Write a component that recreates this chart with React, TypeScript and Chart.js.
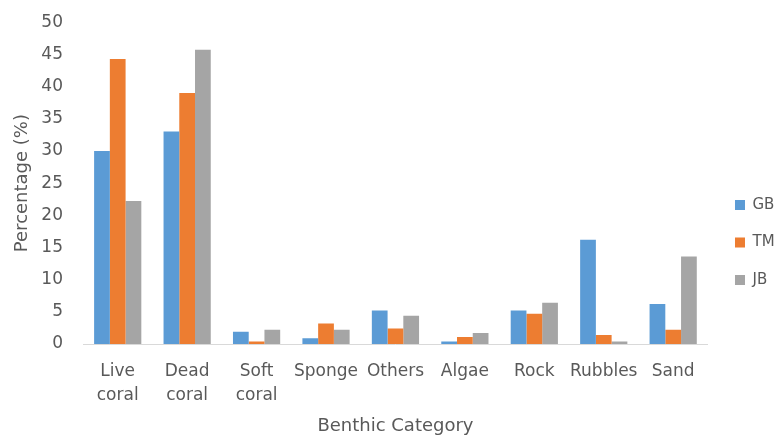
import React, { useEffect, useRef } from "react";
import { Chart, registerables } from "chart.js";

Chart.register(...registerables);

const categories: (string | string[])[] = [
  ["Live", "coral"],
  ["Dead", "coral"],
  ["Soft", "coral"],
  "Sponge",
  "Others",
  "Algae",
  "Rock",
  "Rubbles",
  "Sand",
];
const gbValues = [30.0, 33.0, 1.9, 0.9, 5.2, 0.4, 5.2, 16.2, 6.2];
const tmValues = [44.3, 39.0, 0.4, 3.2, 2.4, 1.1, 4.7, 1.4, 2.2];
const jbValues = [22.2, 45.7, 2.2, 2.2, 4.4, 1.7, 6.4, 0.4, 13.6];
const seriesNames = ["GB", "TM", "JB"];
const seriesColors = ["#5B9BD5", "#ED7D31", "#A5A5A5"];
const yAxisTitle = "Percentage (%)";
const xAxisTitle = "Benthic Category";

const FONT = "'DejaVu Sans', sans-serif";
const TEXT = "#595959";

const legendShift = {
  id: "legendShift",
  afterLayout(chart: any) {
    const lg = chart.legend;
    if (!lg) return;
    const dx = 4.6;
    const dy = 28;
    lg.left += dx;
    lg.right += dx;
    lg.top += dy;
    lg.bottom += dy;
  },
};

export default function App() {
  const ref = useRef<HTMLCanvasElement | null>(null);
  useEffect(() => {
    if (!ref.current) return;
    const chart = new Chart(ref.current, {
      type: "bar",
      data: {
        labels: categories,
        datasets: [gbValues, tmValues, jbValues].map((d, i) => ({
          label: seriesNames[i],
          data: d,
          backgroundColor: seriesColors[i],
          borderWidth: 0,
          categoryPercentage: 0.68,
          barPercentage: 1,
        })),
      },
      options: {
        animation: false,
        responsive: true,
        maintainAspectRatio: false,
        layout: { padding: 0 },
        plugins: {
          legend: {
            position: "right",
            labels: {
              boxWidth: 10,
              boxHeight: 10,
              padding: 22.5,
              color: TEXT,
              font: { family: FONT, size: 15 },
            },
          },
          tooltip: { enabled: false },
        },
        scales: {
          x: {
            grid: { display: false, drawTicks: false },
            border: { display: true, color: "#D9D9D9", width: 1 },
            afterFit(scale: any) {
              scale.height = 93;
            },
            ticks: {
              color: TEXT,
              font: { family: FONT, size: 17, lineHeight: 1.4 },
              padding: 16,
              maxRotation: 0,
              autoSkip: false,
            },
            title: {
              display: true,
              text: xAxisTitle,
              color: TEXT,
              font: { family: FONT, size: 18 },
              padding: { top: 0, bottom: 0 },
            },
          },
          y: {
            min: 0,
            max: 50,
            grid: { display: false, drawTicks: false },
            border: { display: false },
            afterFit(scale: any) {
              scale.width = 83;
            },
            ticks: {
              stepSize: 5,
              color: TEXT,
              font: { family: FONT, size: 17 },
              padding: 20,
            },
            title: {
              display: true,
              text: yAxisTitle,
              color: TEXT,
              font: { family: FONT, size: 18 },
              padding: { top: 12, bottom: 4 },
            },
          },
        },
      },
      plugins: [legendShift],
    });
    return () => chart.destroy();
  }, []);
  return (
    <div
      style={{
        position: "fixed",
        left: 0,
        top: 0,
        width: 777,
        height: 435,
        overflow: "hidden",
        background: "#fff",
      }}
    >
      <div style={{ position: "absolute", left: 0, top: -8, width: 780, height: 445 }}>
        <canvas ref={ref} />
      </div>
    </div>
  );
}
